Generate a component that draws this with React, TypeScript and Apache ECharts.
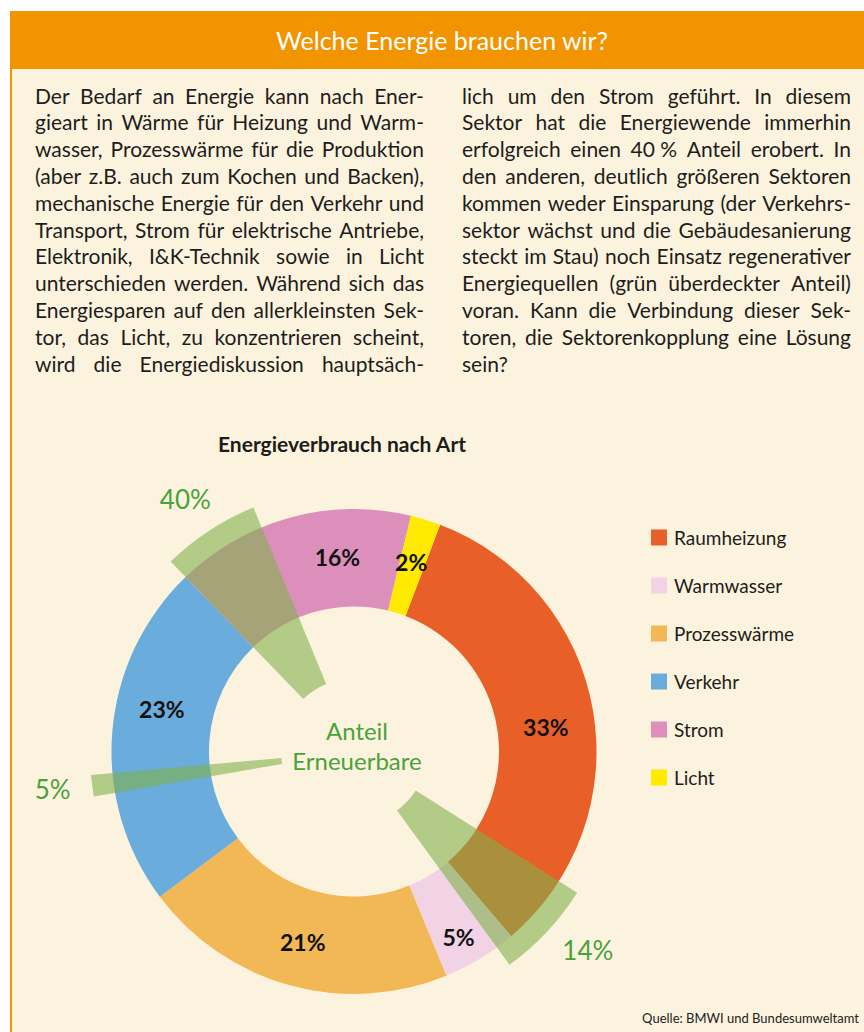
import React, { useEffect, useRef } from 'react';
import * as echarts from 'echarts';

// ---- data ----
const categories = ['Raumheizung', 'Warmwasser', 'Prozesswärme', 'Verkehr', 'Strom', 'Licht'];
const shares = [33, 5, 21, 23, 16, 2];
const colors = ['#e85f28', '#f2d3e5', '#f3b856', '#6aacdb', '#db8fba', '#ffea00'];

// renewable ("Anteil Erneuerbare") overlay wedges, as drawn (in % of the full circle)
const renewableLabels = ['14%', '5%', '40%'];
const renewableStart = [28.2, 66.5, 82.0];
const renewableSpan = [6.0, 1.3, 6.0];

const leftLines = [
  'Der Bedarf an Energie kann nach Ener-',
  'gieart in Wärme für Heizung und Warm-',
  'wasser, Prozesswärme für die Produktion',
  '(aber z.B. auch zum Kochen und Backen),',
  'mechanische Energie für den Verkehr und',
  'Transport, Strom für elektrische Antriebe,',
  'Elektronik, I&K-Technik sowie in Licht',
  'unterschieden werden. Während sich das',
  'Energiesparen auf den allerkleinsten Sek-',
  'tor, das Licht, zu konzentrieren scheint,',
  'wird die Energiediskussion hauptsäch-',
];
const rightLines = [
  'lich um den Strom geführt. In diesem',
  'Sektor hat die Energiewende immerhin',
  'erfolgreich einen 40\u00a0% Anteil erobert. In',
  'den anderen, deutlich größeren Sektoren',
  'kommen weder Einsparung (der Verkehrs-',
  'sektor wächst und die Gebäudesanierung',
  'steckt im Stau) noch Einsatz regenerativer',
  'Energiequellen (grün überdeckter Anteil)',
  'voran. Kann die Verbindung dieser Sek-',
  'toren, die Sektorenkopplung eine Lösung',
  'sein?',
];

const FONT = 'Lato, "Noto Sans", sans-serif';
const GREEN_TEXT = '#4aa23a';
const CENTER: [number, number] = [354, 751.5];
const START_ANGLE = 69.2;

function wedgeData(withLabels: boolean) {
  const out: any[] = [];
  let pos = 0;
  const clear = 'rgba(0,0,0,0)';
  renewableStart.forEach((s, i) => {
    out.push({ name: 'gap' + i, value: s - pos, itemStyle: { color: clear }, label: { show: false } });
    out.push({
      name: 'EE ' + renewableLabels[i],
      value: renewableSpan[i],
      labelText: renewableLabels[i],
      label: { show: withLabels },
      ...(withLabels ? { itemStyle: { color: clear } } : {}),
    });
    pos = s + renewableSpan[i];
  });
  out.push({ name: 'rest', value: 100 - pos, itemStyle: { color: clear }, label: { show: false } });
  return out;
}

function Column({ lines, left }: { lines: string[]; left: number }) {
  return (
    <div style={{ position: 'absolute', left, top: 82.6, width: 389, fontFamily: FONT, fontSize: 21, color: '#1d1d1b' }}>
      {lines.map((t, i) => {
        const words = t.split(' ');
        return (
          <div
            key={i}
            style={{
              display: 'flex',
              justifyContent: words.length > 1 ? 'space-between' : 'flex-start',
              columnGap: 4,
              height: 26.8,
              lineHeight: '26.8px',
              whiteSpace: 'pre',
            }}
          >
            {words.map((w, j) => (
              <span key={j}>{w}</span>
            ))}
          </div>
        );
      })}
    </div>
  );
}

function Chart() {
  const ref = useRef<HTMLDivElement>(null);
  useEffect(() => {
    if (!ref.current) return;
    const chart = echarts.init(ref.current, null, { renderer: 'svg' });
    const labelShift: number[][] = [
      [-2, 9],
      [2, 18],
      [1, 1],
      [4, -27],
      [35, -5],
      [-1, -2],
    ];
    const greenShift: Record<string, number[]> = { '14%': [9, -12], '5%': [4, -2], '40%': [0, 5] };
    chart.setOption({
      animation: false,
      backgroundColor: 'transparent',
      textStyle: { fontFamily: FONT },
      legend: {
        data: categories,
        orient: 'vertical',
        left: 646,
        top: 523,
        itemWidth: 16,
        itemHeight: 16,
        itemGap: 29,
        icon: 'rect',
        selectedMode: false,
        textStyle: { fontSize: 19, color: '#1d1d1b', fontFamily: FONT, padding: [0, 0, 0, 2] },
      },
      graphic: [
        {
          type: 'text',
          x: 342,
          y: 443,
          style: {
            text: 'Energieverbrauch nach Art',
            fontSize: 21,
            fontWeight: 'bold',
            fontFamily: FONT,
            fill: '#1d1d1b',
            textAlign: 'center',
            textVerticalAlign: 'middle',
          },
        },
        {
          type: 'text',
          x: 357,
          y: 745,
          z: 10,
          style: {
            text: 'Anteil\nErneuerbare',
            fontSize: 24,
            lineHeight: 30,
            fontFamily: FONT,
            fill: GREEN_TEXT,
            textAlign: 'center',
            textVerticalAlign: 'middle',
          },
        },
        {
          type: 'text',
          x: 859,
          y: 1018,
          style: {
            text: 'Quelle: BMWI und Bundesumweltamt',
            fontSize: 13,
            fontFamily: FONT,
            fill: '#1d1d1b',
            textAlign: 'right',
            textVerticalAlign: 'middle',
          },
        },
      ],
      series: [
        {
          type: 'pie',
          name: 'Energieverbrauch nach Art',
          center: CENTER,
          radius: [145, 242.5],
          startAngle: START_ANGLE,
          clockwise: true,
          silent: true,
          avoidLabelOverlap: false,
          z: 2,
          itemStyle: { borderWidth: 0 },
          data: categories.map((c, i) => ({ name: c, value: shares[i], itemStyle: { color: colors[i] } })),
          label: {
            show: true,
            position: 'inside',
            formatter: '{c}%',
            fontSize: 23,
            fontWeight: 'bold',
            color: '#111',
            fontFamily: FONT,
          },
          labelLine: { show: false },
          labelLayout: (p: any) => ({ dx: labelShift[p.dataIndex][0], dy: labelShift[p.dataIndex][1] }),
        },
        {
          type: 'pie',
          name: 'Anteil Erneuerbare',
          center: CENTER,
          radius: [73, 264],
          startAngle: START_ANGLE,
          clockwise: true,
          silent: true,
          z: 3,
          itemStyle: { color: 'rgba(129,176,75,0.6)', borderWidth: 0 },
          data: wedgeData(false),
          label: { show: false },
          labelLine: { show: false },
        },
        {
          type: 'pie',
          name: 'Anteil Erneuerbare Beschriftung',
          center: CENTER,
          radius: [290, 320],
          startAngle: START_ANGLE,
          clockwise: true,
          silent: true,
          z: 4,
          itemStyle: { color: 'rgba(0,0,0,0)', borderWidth: 0 },
          data: wedgeData(true),
          label: {
            position: 'inside',
            formatter: (p: any) => p.data.labelText || '',
            fontSize: 26,
            color: GREEN_TEXT,
            fontFamily: FONT,
          },
          labelLine: { show: false },
          labelLayout: (p: any) => {
            const s = greenShift[p.text] || [0, 0];
            return { dx: s[0], dy: s[1] };
          },
        },
      ],
    });
    return () => chart.dispose();
  }, []);
  return <div ref={ref} style={{ position: 'absolute', left: 0, top: 0, width: 864, height: 1032, zIndex: 2 }} />;
}

export default function App() {
  useEffect(() => {
    document.body.style.margin = '0';
  }, []);
  return (
    <div style={{ position: 'absolute', left: 0, top: 0, width: 864, height: 1032, background: '#ffffff', overflow: 'hidden' }}>
      <div
        style={{
          position: 'absolute',
          left: 10,
          top: 11,
          width: 854,
          height: 58,
          background: '#f29400',
          color: '#ffffff',
          fontFamily: FONT,
          fontSize: 25,
          lineHeight: '58px',
          textAlign: 'center',
          boxSizing: 'border-box',
          paddingLeft: 10,
        }}
      >
        Welche Energie brauchen wir?
      </div>
      <div
        style={{
          position: 'absolute',
          left: 10,
          top: 69,
          width: 854,
          height: 963,
          background: '#fcf3de',
          borderLeft: '2px solid #f29400',
          boxSizing: 'border-box',
        }}
      />
      <Column lines={leftLines} left={35} />
      <Column lines={rightLines} left={462} />
      <Chart />
    </div>
  );
}
